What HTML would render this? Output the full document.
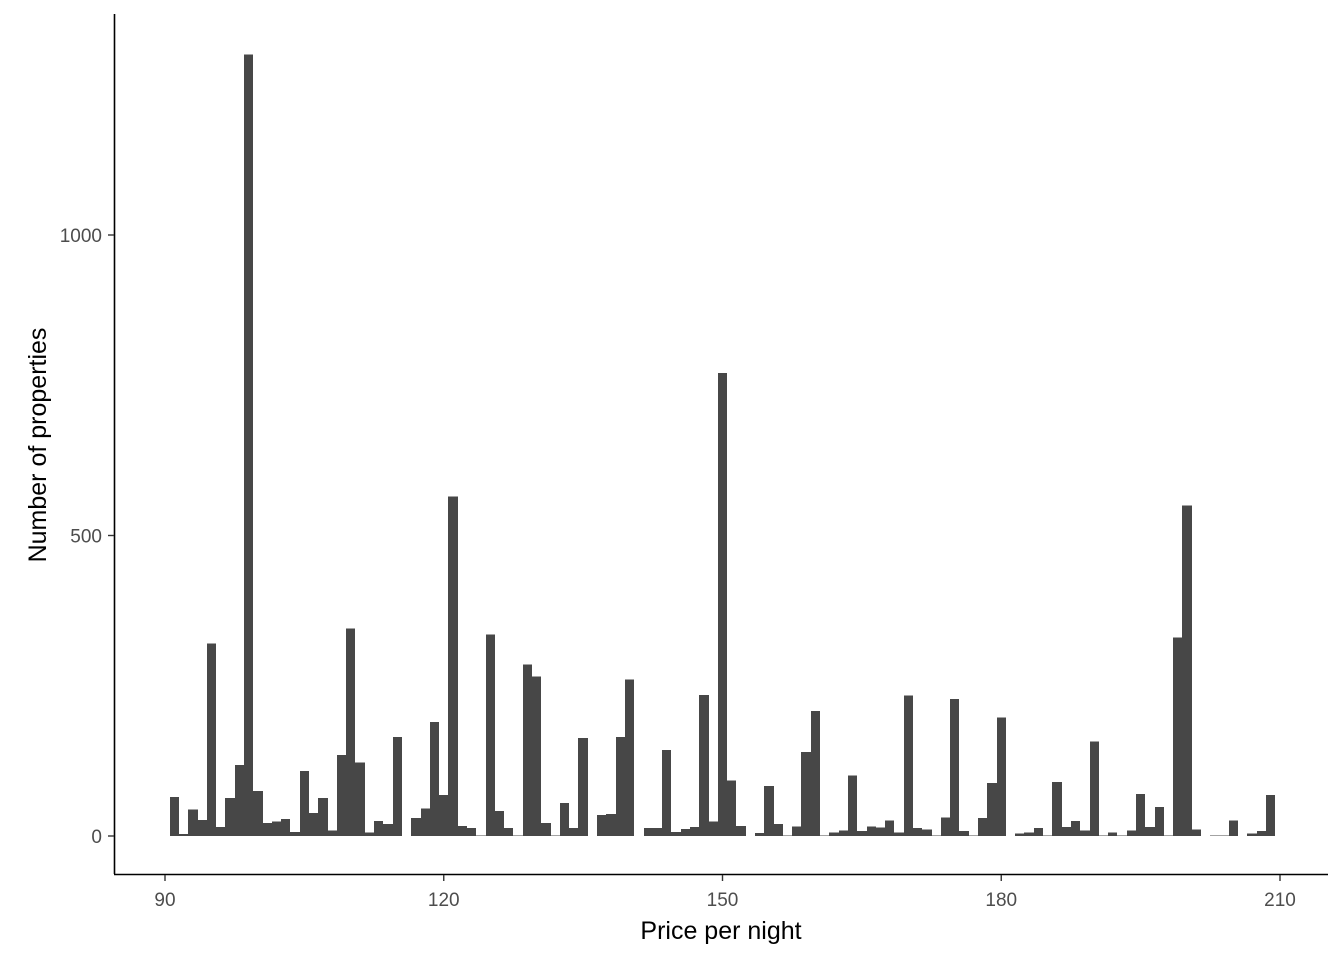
<!DOCTYPE html>
<html><head><meta charset="utf-8"><style>
body{margin:0;background:#fff;font-family:"Liberation Sans",Arial,sans-serif}
</style></head><body>
<svg id="chart" width="1344" height="960" xmlns="http://www.w3.org/2000/svg" font-family="Liberation Sans, Arial, sans-serif">
<g id="bars" shape-rendering="crispEdges"></g>
<line x1="114.5" y1="14" x2="114.5" y2="874" stroke="#000" stroke-width="1.6"/>
<line x1="114" y1="874.5" x2="1328" y2="874.5" stroke="#000" stroke-width="1.6"/>
<g id="ticks"></g>
<text x="721" y="939" font-size="25" text-anchor="middle" fill="#000">Price per night</text>
<text transform="translate(46,445) rotate(-90)" font-size="25" text-anchor="middle" fill="#000">Number of properties</text>
</svg>
<script>
const binStart = 91;
const counts = [65,3,44,27,320,15,63,118,1300,75,22,24,28,7,108,38,63,9,135,345,122,6,25,20,165,0,30,46,190,68,565,17,13,1,335,42,13,1,285,265,22,1,55,13,163,0,35,37,165,260,0,13,13,143,7,12,15,235,24,770,92,17,0,5,83,20,1,16,140,208,1,6,9,101,8,16,14,26,6,234,13,11,1,31,228,8,1,30,88,197,0,4,6,13,1,90,15,25,9,157,1,6,1,9,70,15,48,1,330,550,11,0,1,1,26,0,4,8,68];
const xTicks = [90,120,150,180,210];
const yTicks = [0,500,1000];
const NS="http://www.w3.org/2000/svg";
const xs = v => 165 + (v-90)*(1280-165)/120;
const ys = v => 836 - v*(836-235)/1000;
const bars=document.getElementById('bars');
counts.forEach((c,i)=>{
  const v=binStart+i; if(c<=0) return;
  const r=document.createElementNS(NS,'rect');
  
  
  const x0=Math.round(xs(v-0.5)), x1=Math.round(xs(v+0.5));
  r.setAttribute('x',x0); r.setAttribute('width',x1-x0);
  r.setAttribute('y',ys(c)); r.setAttribute('height',ys(0)-ys(c));
  r.setAttribute('fill','#474747');
  bars.appendChild(r);
});
const tg=document.getElementById('ticks');
xTicks.forEach(t=>{
  const l=document.createElementNS(NS,'line');
  
  
  l.setAttribute('x1',xs(t));l.setAttribute('x2',xs(t));l.setAttribute('y1',875);l.setAttribute('y2',881);l.setAttribute('stroke','#333');l.setAttribute('stroke-width',1.4);
  tg.appendChild(l);
  const s=document.createElementNS(NS,'text');
  
  
  s.setAttribute('x',xs(t));s.setAttribute('y',906);s.setAttribute('text-anchor','middle');s.setAttribute('font-size','19');s.setAttribute('fill','#4d4d4d');
  s.textContent=t; tg.appendChild(s);
});
yTicks.forEach(t=>{
  const l=document.createElementNS(NS,'line');
  
  
  l.setAttribute('x1',108);l.setAttribute('x2',114);l.setAttribute('y1',ys(t));l.setAttribute('y2',ys(t));l.setAttribute('stroke','#333');l.setAttribute('stroke-width',1.4);
  tg.appendChild(l);
  const s=document.createElementNS(NS,'text');
  
  
  s.setAttribute('x',102);s.setAttribute('y',ys(t)+7);s.setAttribute('text-anchor','end');s.setAttribute('font-size','19');s.setAttribute('fill','#4d4d4d');
  s.textContent=t; tg.appendChild(s);
});
</script>
</body></html>
